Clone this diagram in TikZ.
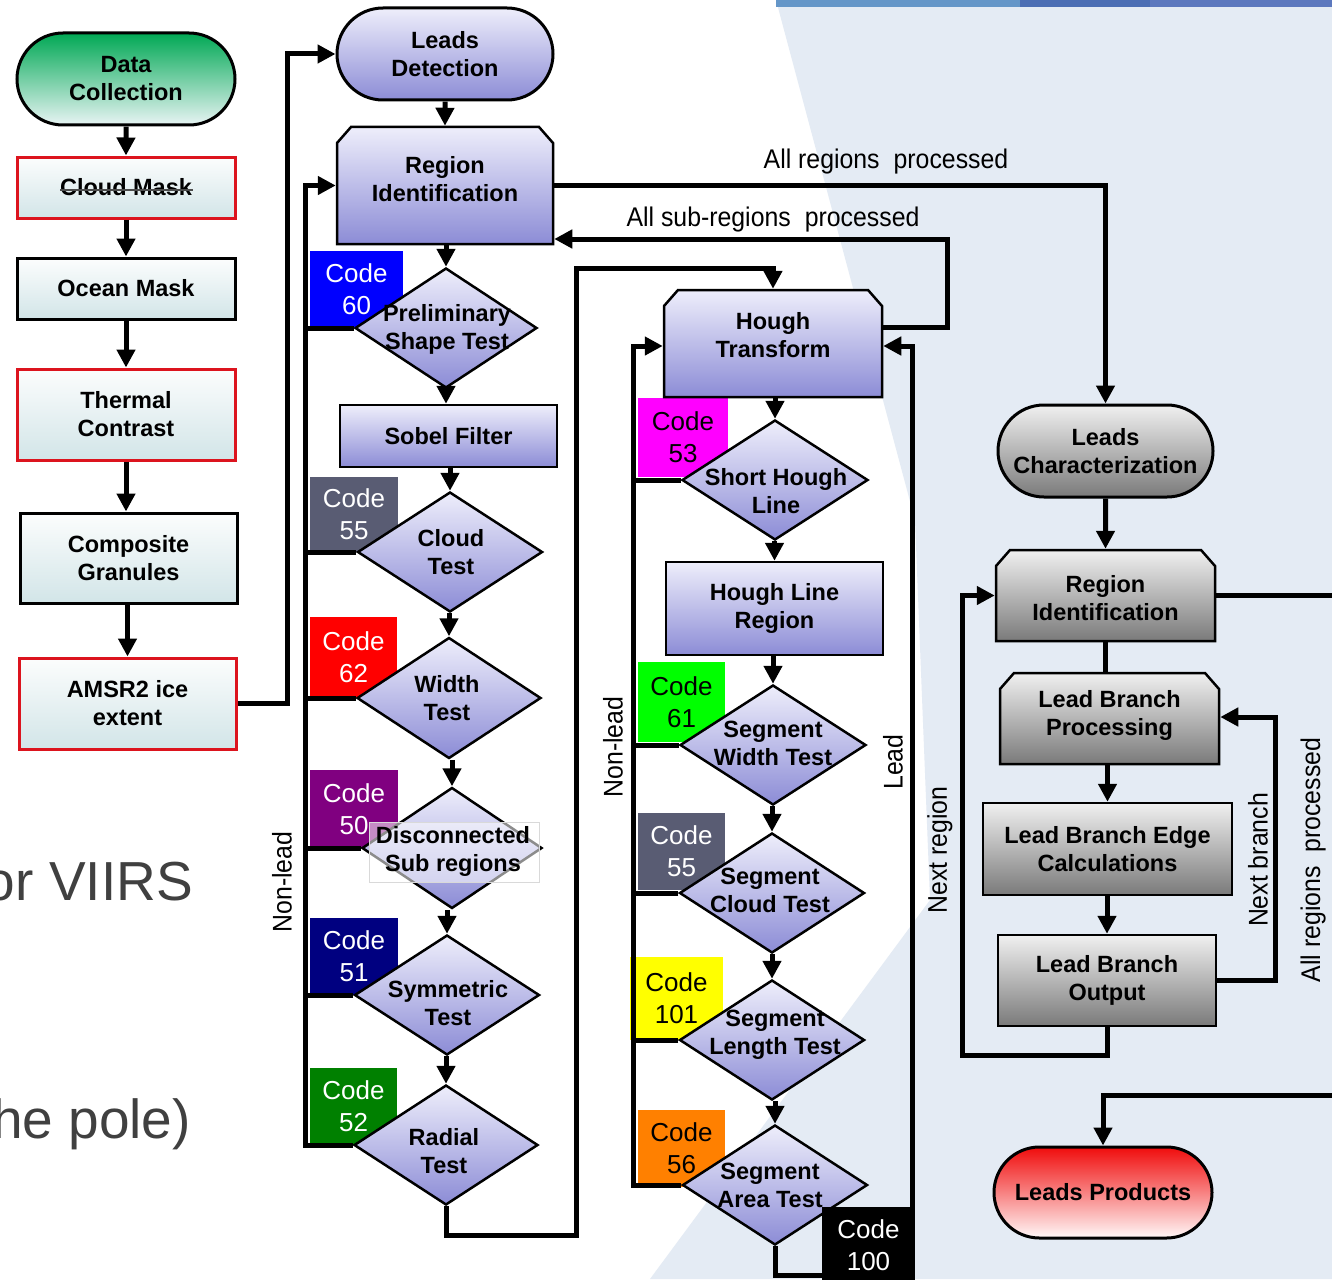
\documentclass[tikz,border=0pt]{standalone}
\usepackage{fontspec}
\setmainfont{Liberation Sans}
\newfontfamily\nfont[FakeStretch=0.92]{Liberation Sans}
\usetikzlibrary{shapes.geometric,shapes.misc,arrows.meta}

\definecolor{lavT}{RGB}{238,238,251}
\definecolor{lavB}{RGB}{140,140,214}
\definecolor{gryT}{RGB}{240,240,240}
\definecolor{gryB}{RGB}{122,122,122}
\definecolor{cyT}{RGB}{252,253,253}
\definecolor{cyB}{RGB}{210,229,232}
\definecolor{grnT}{RGB}{0,168,84}
\definecolor{grnB}{RGB}{232,244,244}
\definecolor{redT}{RGB}{240,12,12}
\definecolor{redB}{RGB}{255,248,248}
\definecolor{bxred}{RGB}{220,20,30}
\definecolor{bgblue}{RGB}{228,235,244}
\definecolor{bar1}{RGB}{100,150,200}
\definecolor{bar2}{RGB}{75,110,180}
\definecolor{bar3}{RGB}{92,120,190}
\definecolor{slidegray}{RGB}{64,64,64}
\definecolor{cBlue}{RGB}{0,0,255}
\definecolor{cSlate}{RGB}{89,92,115}
\definecolor{cRed}{RGB}{255,0,0}
\definecolor{cPurple}{RGB}{128,0,128}
\definecolor{cNavy}{RGB}{0,0,128}
\definecolor{cGreen}{RGB}{0,128,0}
\definecolor{cMagenta}{RGB}{255,0,255}
\definecolor{cLime}{RGB}{0,255,0}
\definecolor{cYellow}{RGB}{255,255,0}
\definecolor{cOrange}{RGB}{255,128,0}

\tikzset{
  every node/.style={inner sep=0pt},
  tx/.style={font=\bfseries\fontsize{23.5}{28}\selectfont, align=center, text=black},
  lbox/.style={rectangle, draw=black, line width=3pt, top color=cyT, bottom color=cyB, tx},
  redbox/.style={lbox, draw=bxred},
  pbox/.style={rectangle, draw=black, line width=2.5pt, top color=lavT, bottom color=lavB, tx},
  gbox/.style={rectangle, draw=black, line width=2.5pt, top color=gryT, bottom color=gryB, tx},
  pfill/.style={draw=black, line width=2.5pt, top color=lavT, bottom color=lavB},
  gfill/.style={draw=black, line width=2.5pt, top color=gryT, bottom color=gryB},
  stad/.style={rounded rectangle, draw=black, line width=3pt, tx},
  dia/.style={diamond, draw=black, line width=2.5pt, top color=lavT, bottom color=lavB},
  codebox/.style={rectangle, font=\fontsize{26}{32}\selectfont, align=center},
  conn/.style={line width=5pt, draw=black},
  arr/.style={conn, -{Triangle[length=18pt,width=18pt]}},
  elab/.style={font=\nfont\fontsize{27}{30}\selectfont},
  slide/.style={font=\fontsize{55}{60}\selectfont, text=slidegray},
}

% chamfered box: name, cx, cy, w, h, style, text y, text
\newcommand\chamf[8]{%
  \draw[#6] ({#2-#4/2},{#3+#5/2}) -- ({#2-#4/2},{#3-#5/2+16}) -- ({#2-#4/2+14},{#3-#5/2})
    -- ({#2+#4/2-14},{#3-#5/2}) -- ({#2+#4/2},{#3-#5/2+16}) -- ({#2+#4/2},{#3+#5/2}) -- cycle;
  \node[rectangle, minimum width=#4pt, minimum height=#5pt, outer sep=1.25pt] (#1) at (#2,#3) {};
  \node[tx] (#1t) at (#2,#7) {#8};
}

\begin{document}
\begin{tikzpicture}[x=1pt,y=-1pt]
\useasboundingbox (0,0) rectangle (1332,1279);
\fill[white] (0,0) rectangle (1332,1279);
\fill[bgblue] (776,0) -- (1332,0) -- (1332,1279) -- (650,1279) -- (930,900) -- (915,520) -- cycle;
\fill[bar1] (776,0) rectangle (1020,7);
\fill[bar2] (1020,0) rectangle (1150,7);
\fill[bar3] (1150,0) rectangle (1332,7);
\node[slide, anchor=east] (s1) at (193,882) {or VIIRS};
\node[slide, anchor=east] (s2) at (191,1124) {he pole)};

% code boxes
\node[codebox, fill=cBlue, text=white, minimum width=93pt, minimum height=76pt] (c60) at (356.5,289) {Code\\60};
\node[codebox, fill=cSlate, text=white, minimum width=88pt, minimum height=75pt] (c55a) at (354,514.5) {Code\\55};
\node[codebox, fill=cRed, text=white, minimum width=87pt, minimum height=80pt] (c62) at (353.5,657) {Code\\62};
\node[codebox, fill=cPurple, text=white, minimum width=88pt, minimum height=78pt] (c50) at (354,809) {Code\\50};
\node[codebox, fill=cNavy, text=white, minimum width=88pt, minimum height=77pt] (c51) at (354,956.5) {Code\\51};
\node[codebox, fill=cGreen, text=white, minimum width=87pt, minimum height=77pt] (c52) at (353.5,1106.5) {Code\\52};
\node[codebox, fill=cMagenta, text=black, minimum width=90pt, minimum height=79pt] (c53) at (683,437.5) {Code\\53};
\node[codebox, fill=cLime, text=black, minimum width=87pt, minimum height=80pt] (c61) at (681.5,702) {Code\\61};
\node[codebox, fill=cSlate, text=white, minimum width=87pt, minimum height=77pt] (c55b) at (681.5,851.5) {Code\\55};
\node[codebox, fill=cYellow, text=black, minimum width=93pt, minimum height=83pt] (c101) at (676.5,998.5) {Code\\101};
\node[codebox, fill=cOrange, text=black, minimum width=87pt, minimum height=77pt] (c56) at (681.5,1148.5) {Code\\56};

% left column
\node[stad, top color=grnT, bottom color=grnB, minimum width=218pt, minimum height=92pt] (dc) at (126,79) {Data\\Collection};
\node[redbox, minimum width=218pt, minimum height=61pt] (cm) at (126,187.5) {Cloud Mask};
\draw[line width=1.8pt, black!70] (60,190) -- (193,190);
\node[lbox, minimum width=218pt, minimum height=61pt] (om) at (126,288.5) {Ocean Mask};
\node[redbox, minimum width=218pt, minimum height=91pt] (tc) at (126,414.5) {Thermal\\Contrast};
\node[lbox, minimum width=217pt, minimum height=90pt] (cg) at (128.5,558) {Composite\\Granules};
\node[redbox, minimum width=217pt, minimum height=91pt] (am) at (127.5,703.5) {AMSR2 ice\\extent};

% middle column 1
\node[stad, top color=lavT, bottom color=lavB, minimum width=216pt, minimum height=92pt] (ld) at (445,54) {Leads\\Detection};
\chamf{ri1}{445}{185.5}{216}{117}{pfill}{179}{Region\\Identification}
\node[pbox, minimum width=217pt, minimum height=62pt] (sob) at (448.5,436) {Sobel Filter};
\node[dia, minimum width=182pt, minimum height=120pt] (d1) at (446,328) {};
\node[tx] (d1t) at (447,329) {Preliminary\\Shape Test};
\node[dia, minimum width=185pt, minimum height=120pt] (d2) at (450,552) {};
\node[tx] (d2t) at (451,552) {Cloud\\Test};
\node[dia, minimum width=184pt, minimum height=121pt] (d3) at (449,698) {};
\node[tx] (d3t) at (447,698) {Width\\Test};
\node[dia, minimum width=180pt, minimum height=121pt] (d4) at (452,848) {};
\draw[black!15, fill=white, fill opacity=0.55, line width=1pt] (369,822) rectangle (539,882);
\node[tx] (d4t) at (453,851) {Disconnected\\Sub regions};
\node[dia, minimum width=185pt, minimum height=120pt] (d5) at (447,995) {};
\node[tx] (d5t) at (448,1003) {Symmetric\\Test};
\node[dia, minimum width=184pt, minimum height=120pt] (d6) at (446,1145) {};
\node[tx] (d6t) at (444,1151) {Radial\\Test};

% middle column 2
\chamf{ht}{773}{343.5}{218}{107}{pfill}{335}{Hough\\Transform}
\node[dia, minimum width=186pt, minimum height=120pt] (e1) at (775,480) {};
\node[tx] (e1t) at (776,491) {Short Hough\\Line};
\node[pbox, minimum width=217pt, minimum height=93pt] (hlr) at (774.5,608.5) {Hough Line\\Region};
\node[dia, minimum width=186pt, minimum height=120pt] (e2) at (773,745) {};
\node[tx] (e2t) at (773,743) {Segment\\Width Test};
\node[dia, minimum width=185pt, minimum height=120pt] (e3) at (772,893) {};
\node[tx] (e3t) at (770,890) {Segment\\Cloud Test};
\node[dia, minimum width=185pt, minimum height=120pt] (e4) at (772,1040) {};
\node[tx] (e4t) at (775,1035) {Segment\\Length Test};
\node[dia, minimum width=185pt, minimum height=120pt] (e5) at (775,1185) {};
\node[tx] (e5t) at (770,1185) {Segment\\Area Test};

% right column
\node[stad, top color=gryT, bottom color=gryB, minimum width=215pt, minimum height=92pt] (lc) at (1105.5,451) {Leads\\Characterization};
\chamf{ri2}{1105.5}{595.5}{219}{91}{gfill}{598}{Region\\Identification}
\chamf{lbp}{1109.5}{718.5}{219}{91}{gfill}{715}{Lead Branch\\Processing}
\node[gbox, minimum width=249pt, minimum height=92pt] (lbe) at (1107.5,849) {Lead Branch Edge\\Calculations};
\node[gbox, minimum width=218pt, minimum height=91pt] (lbo) at (1107,980.5) {Lead Branch\\Output};
\node[stad, top color=redT, bottom color=redB, minimum width=218pt, minimum height=91pt] (lp) at (1103,1192.5) {Leads Products};

% helper coordinates
\coordinate (xL1) at (305,0);
\coordinate (xL2) at (633,0);
\coordinate (yH) at (0,346);
\coordinate (p1) at (947,327);
\coordinate (p2) at (0,239);
\coordinate (p3) at (1275,717);
\coordinate (p4) at (962,1055);
\coordinate (p5) at (1345,1095);

% left column connectors
\draw[arr] (dc) -- (cm);
\draw[arr] (cm) -- (om);
\draw[arr] (om) -- (tc);
\draw[arr] (tc.south) -- (tc.south |- cg.north);
\draw[arr] (cg.south -| am.north) -- (am.north);
\draw[arr] (am.east) -- (287,703.5) -- (287,54) -- (ld.west);

% column 1 connectors
\draw[arr] (ld) -- (ri1);
\draw[arr] (ri1.south -| d1.north) -- (d1.north);
\draw[arr] (d1.south) -- (d1.south |- sob.north);
\draw[arr] (sob.south -| d2.north) -- (d2.north);
\draw[arr] (d2.south -| d3.north) -- (d3.north);
\draw[arr] (d3.south -| d4.north) -- (d4.north);
\draw[arr] (d4.south -| d5.north) -- (d5.north);
\draw[arr] (d5.south -| d6.north) -- (d6.north);
\draw[arr] (d6.west) -| (xL1 |- ri1.west) -- (ri1.west);
\draw[conn] (d1.west) -- (d1.west -| xL1);
\draw[conn] (d2.west) -- (d2.west -| xL1);
\draw[conn] (d3.west) -- (d3.west -| xL1);
\draw[conn] (d4.west) -- (d4.west -| xL1);
\draw[conn] (d5.west) -- (d5.west -| xL1);
\draw[arr] (d6.south) |- (576,1235) -- (576,268) -| (ht.north);

% column 2 connectors
\draw[arr] (ht.south -| e1.north) -- (e1.north);
\draw[arr] (e1.south -| hlr.north) -- (hlr.north);
\draw[arr] (hlr.south -| e2.north) -- (e2.north);
\draw[arr] (e2.south -| e3.north) -- (e3.north);
\draw[arr] (e3.south -| e4.north) -- (e4.north);
\draw[arr] (e4.south -| e5.north) -- (e5.north);
\draw[arr] (e5.west) -| (xL2 |- yH) -- (ht.west |- yH);
\draw[conn] (e1.west) -- (e1.west -| xL2);
\draw[conn] (e2.west) -- (e2.west -| xL2);
\draw[conn] (e3.west) -- (e3.west -| xL2);
\draw[conn] (e4.west) -- (e4.west -| xL2);
\draw[arr] (e5.south) |- (912,1275) -- (912,346) -- (ht.east |- yH);
\draw[arr] (ht.east |- p1) -- (p1) |- (ri1.east |- p2);
\draw[arr] (ri1.east) -| (lc.north);

% right column connectors
\draw[arr] (lc) -- (ri2);
\draw[conn] (ri2.south) -- (ri2.south |- lbp.north);
\draw[arr] (lbp.south -| lbe.north) -- (lbe.north);
\draw[arr] (lbe.south -| lbo.north) -- (lbo.north);
\draw[arr] (lbo.east) -| (p3) -- (lbp.east |- p3);
\draw[arr] (lbo.south) |- (p4) -- (p4 |- ri2.west) -- (ri2.west);
\draw[conn] (ri2.east) -- ++(140,0);
\draw[arr] (p5) -| (lp.north);

% code 100 over the loop
\node[codebox, fill=black, text=white, minimum width=93pt, minimum height=76pt] (c100) at (868.5,1245) {Code\\100};

% labels
\node[elab] (l1) at (886,162) {All regions\hspace{14pt}processed};
\node[elab] (l2) at (773,220) {All sub-regions\hspace{14pt}processed};
\node[elab, rotate=90] (l3) at (282,882) {Non-lead};
\node[elab, rotate=90] (l4) at (613,747) {Non-lead};
\node[elab, rotate=90] (l5) at (893,762) {Lead};
\node[elab, rotate=90] (l6) at (940,850) {Next region};
\node[elab, rotate=90] (l7) at (1258,860) {Next branch};
\node[elab, rotate=90] (l8) at (1313,860) {All regions\hspace{14pt}processed};
\end{tikzpicture}
\end{document}
